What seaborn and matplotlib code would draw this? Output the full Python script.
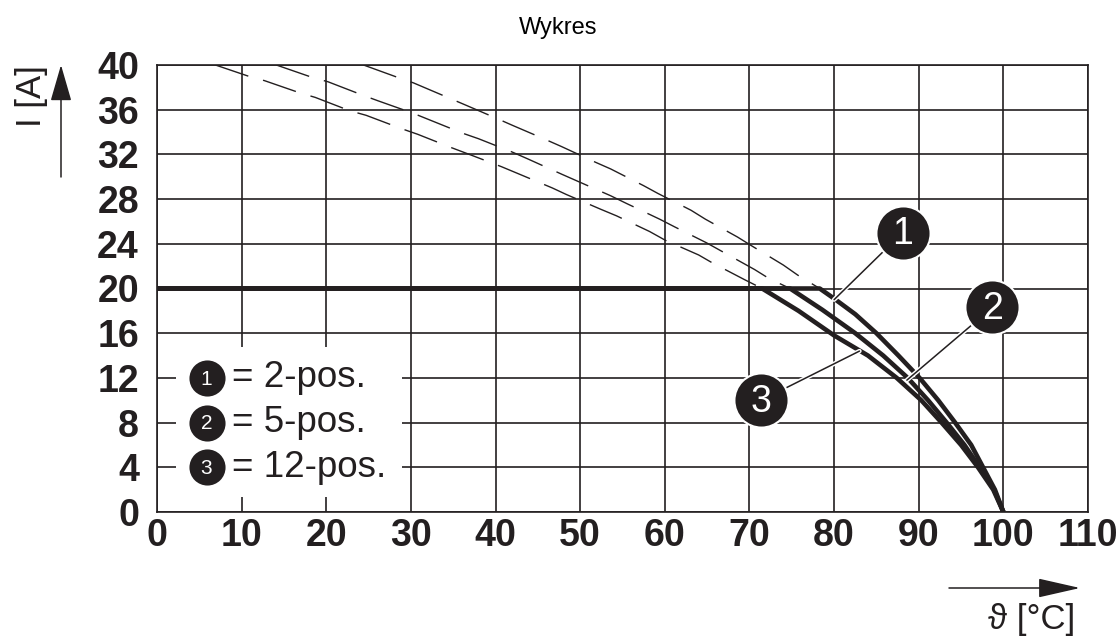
import matplotlib
matplotlib.use("Agg")
import matplotlib.pyplot as plt
import matplotlib.patheffects as pe
from matplotlib.patches import Rectangle
import seaborn as sns
import pandas as pd

# ---------------- data ----------------
x_ticks = list(range(0, 111, 10))
y_ticks = list(range(0, 41, 4))

series_names = ["1", "2", "3"]
legend_labels = ["= 2-pos.", "= 5-pos.", "= 12-pos."]

# dashed (theoretical) continuation above 20 A
dash1_x = [24.4, 28.4, 30.3, 36.2, 40.2, 42.0, 46.0, 47.8, 51.8, 53.6, 57.5, 59.2, 63.1, 64.8, 68.6, 70.3, 74.0, 75.7, 78.3]
dash1_y = [40.0, 38.9, 38.4, 36.5, 35.2, 34.6, 33.3, 32.7, 31.3, 30.7, 29.2, 28.5, 27.0, 26.2, 24.6, 23.8, 22.1, 21.2, 20.0]

dash2_x = [14.1, 18.3, 20.2, 24.3, 26.1, 30.2, 36.1, 38.0, 42.0, 43.8, 47.9, 49.7, 53.6, 55.5, 59.4, 61.2, 64.9, 66.8, 70.6, 72.3, 74.8]
dash2_y = [40.0, 38.9, 38.5, 37.3, 36.8, 35.7, 33.9, 33.4, 32.2, 31.6, 30.2, 29.6, 28.3, 27.6, 26.2, 25.5, 24.1, 23.3, 21.7, 20.9, 20.0]

dash3_x = [6.9, 10.8, 12.7, 16.9, 18.7, 22.8, 24.7, 28.9, 30.8, 34.8, 36.9, 40.7, 42.6, 46.7, 48.4, 52.4, 54.3, 58.2, 60.1, 64.0, 65.6, 69.4, 71.5]
dash3_y = [40.0, 39.0, 38.6, 37.5, 37.1, 35.9, 35.5, 34.3, 33.8, 32.6, 32.0, 30.9, 30.3, 29.0, 28.4, 27.1, 26.5, 25.1, 24.3, 23.0, 22.3, 20.8, 20.0]

# solid (permitted) derating curves
solid1_x = [0.0, 78.3, 80.0, 82.5, 85.0, 87.6, 90.1, 92.3, 94.3, 96.2, 97.6, 99.0, 100.0]
solid1_y = [20.0, 20.0, 19.1, 17.7, 16.0, 14.0, 12.0, 10.0, 8.0, 6.0, 4.0, 2.0, 0.0]

solid2_x = [0.0, 74.8, 78.6, 82.5, 85.8, 88.7, 91.1, 93.3, 95.4, 97.2, 98.9, 100.0]
solid2_y = [20.0, 20.0, 18.1, 16.0, 14.0, 12.0, 10.0, 8.0, 6.0, 4.0, 2.0, 0.0]

solid3_x = [0.0, 71.5, 75.8, 80.0, 84.0, 87.4, 90.3, 92.7, 95.0, 97.0, 98.8, 100.0]
solid3_y = [20.0, 20.0, 18.0, 15.8, 14.0, 12.0, 10.0, 8.0, 6.0, 4.0, 2.0, 0.0]

dash_df = pd.concat([
    pd.DataFrame({"x": dash1_x, "y": dash1_y, "s": "1"}),
    pd.DataFrame({"x": dash2_x, "y": dash2_y, "s": "2"}),
    pd.DataFrame({"x": dash3_x, "y": dash3_y, "s": "3"}),
], ignore_index=True)
solid_df = pd.concat([
    pd.DataFrame({"x": solid1_x, "y": solid1_y, "s": "1"}),
    pd.DataFrame({"x": solid2_x, "y": solid2_y, "s": "2"}),
    pd.DataFrame({"x": solid3_x, "y": solid3_y, "s": "3"}),
], ignore_index=True)

# ---------------- figure ----------------
sns.set_theme(style="white")
plt.rcParams['font.family'] = ['Liberation Sans', 'DejaVu Sans']

W, H = 1117, 639
fig = plt.figure(figsize=(W / 100, H / 100), dpi=100)
L, R, T, B = 157, 1088, 65, 512
ax = fig.add_axes([L / W, 1 - B / H, (R - L) / W, (B - T) / H])

ink = "#231f20"

sns.lineplot(data=dash_df, x="x", y="y", units="s", estimator=None, sort=False,
             color=ink, lw=1.0, ax=ax, zorder=3)
for ln in ax.lines:
    ln.set_dashes((25, 11))
n_dash = len(ax.lines)
sns.lineplot(data=solid_df, x="x", y="y", units="s", estimator=None, sort=False,
             color=ink, lw=3.3, ax=ax, zorder=4)
for ln in ax.lines[n_dash:]:
    ln.set_solid_capstyle("butt")
    ln.set_solid_joinstyle("round")

ax.set_xlim(0, 110)
ax.set_ylim(0, 40)
ax.set_xticks(x_ticks)
ax.set_yticks(y_ticks)
ax.set_xticklabels([str(v) for v in x_ticks])
ax.set_yticklabels([str(v) for v in y_ticks])
ax.grid(True, color=ink, lw=1.2)
ax.set_axisbelow(True)
for sp in ax.spines.values():
    sp.set_color(ink)
    sp.set_linewidth(1.2)
ax.tick_params(axis="both", length=0, labelsize=27, labelcolor=ink)
ax.tick_params(axis="y", pad=13)
ax.tick_params(axis="x", pad=4)
for lab in ax.get_xticklabels() + ax.get_yticklabels():
    lab.set_fontweight("bold")
ax.set_xlabel("")
ax.set_ylabel("")

# legend box (white box over grid)
ax.add_patch(Rectangle((2.3, 1.35), 26.7, 13.45, facecolor="white", edgecolor="none", zorder=2))
for i, (num, lab) in enumerate(zip(series_names, legend_labels)):
    yy = 12 - 4 * i
    ax.plot([5.85], [yy], marker="o", ms=26, color=ink, mec="white", mew=0, zorder=5)
    ax.text(5.85, yy - 0.1, num, color="white", fontsize=15, ha="center", va="center", zorder=6)
    ax.text(8.9, yy, lab, color=ink, fontsize=26.5, ha="left", va="center", zorder=6)

# callouts
halo = [pe.Stroke(linewidth=3.2, foreground="white"), pe.Normal()]
callouts = [("1", (88.1, 25.0), (80.0, 19.0)),
            ("2", (98.7, 18.3), (88.6, 11.8)),
            ("3", (71.4, 10.0), (83.0, 14.4))]
for num, (cx, cy), (tx, ty) in callouts:
    ax.plot([cx, tx], [cy, ty], color=ink, lw=1.1, zorder=7, path_effects=halo)
    ax.plot([cx], [cy], marker="o", ms=39, color=ink, mec="white", mew=1.5, zorder=8)
    ax.text(cx, cy - 0.15, num, color="white", fontsize=27, ha="center", va="center", zorder=9)

# title and axis labels with arrows
fig.text(558 / W, 1 - 28 / H, "Wykres", fontsize=17, ha="center", va="center", color="black")
fig.text(31 / W, 1 - 96 / H, "I [A]", fontsize=25, rotation=90, ha="center", va="center", color=ink)
fig.text(1032 / W, 1 - 620 / H, "\u03d1 [\u00b0C]", fontsize=25, ha="center", va="center", color=ink)

ax.annotate("", xy=(61, H - 65), xytext=(61, H - 177), xycoords="figure pixels",
            textcoords="figure pixels",
            arrowprops=dict(arrowstyle="-|>,head_length=1.9,head_width=0.55", color=ink, lw=1.1,
                            shrinkA=0, shrinkB=0))
ax.annotate("", xy=(1080, H - 588), xytext=(949, H - 588), xycoords="figure pixels",
            textcoords="figure pixels",
            arrowprops=dict(arrowstyle="-|>,head_length=2.2,head_width=0.5", color=ink, lw=1.1,
                            shrinkA=0, shrinkB=0))

fig.savefig("out.png", dpi=100, facecolor="white")
